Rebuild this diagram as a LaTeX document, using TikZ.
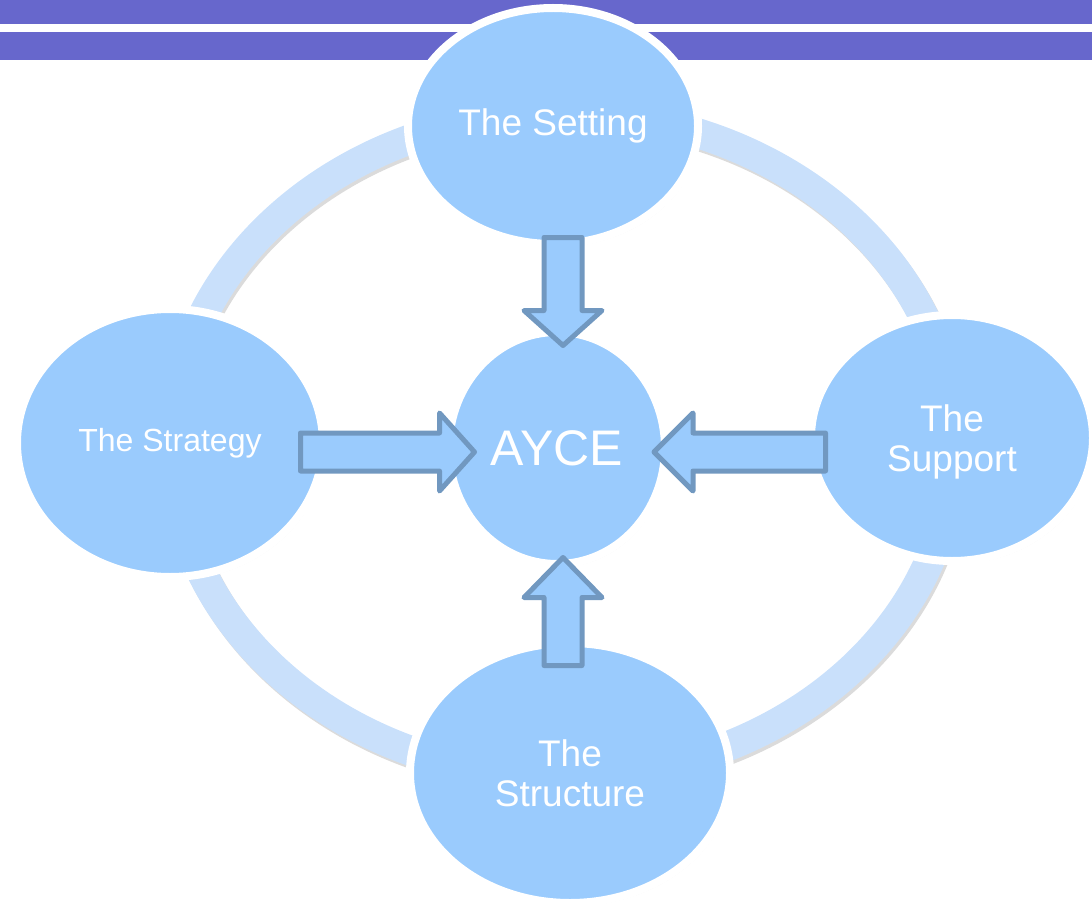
\documentclass[tikz,border=0pt]{standalone}
\usepackage{fontspec}
\setmainfont{Liberation Sans}
\usetikzlibrary{shapes.geometric,shadows}
\definecolor{barc}{HTML}{6767CC}
\definecolor{ringc}{HTML}{C9E0FB}
\definecolor{fillc}{HTML}{9ACBFD}
\definecolor{arrowline}{HTML}{7198C0}
\tikzset{
  bubble/.style={ellipse, fill=fillc, draw=white, line width=8pt, text=white,
    align=center, inner sep=0pt,
    drop shadow={shadow xshift=2pt, shadow yshift=-3pt, opacity=0.22, fill=black!60}},
  txt/.style={font=\fontsize{37}{40}\selectfont},
  blockarrow/.style={fill=fillc, draw=arrowline, line width=5pt, line join=round},
}
\newcommand\myarrow[5]{% x, y, angle, length, headlength
  \draw[blockarrow, shift={(#1,#2)}, rotate=#3]
    (0,-19) -- ({#4-#5},-19) -- ({#4-#5},-39) -- (#4,0) -- ({#4-#5},39) -- ({#4-#5},19) -- (0,19) -- cycle;}
\begin{document}
\begin{tikzpicture}[x=1pt,y=-1pt]
\useasboundingbox (0,0) rectangle (1092,904);
\clip (0,0) rectangle (1092,904);
% top bars
\fill[barc] (0,0) rectangle (1092,24);
\fill[barc] (0,32) rectangle (1092,60);
% ring
\draw[black, opacity=0.14, line width=30pt] (565,448) ellipse [x radius=391, y radius=332];
\draw[ringc, line width=30pt] (563,445) ellipse [x radius=391, y radius=332];
% bubbles
\node[bubble, txt, minimum width=290, minimum height=236] (setting) at (553,126) {The Setting};
\node[bubble, minimum width=306, minimum height=268, font=\fontsize{32}{36}\selectfont] (strategy) at (170,443) {The Strategy};
\node[bubble, txt, minimum width=282, minimum height=246, text depth=0pt] (support) at (952,438) {The\\Support};
\node[bubble, txt, minimum width=320, minimum height=260] (structure) at (570,773) {The\\Structure};
\node[bubble, minimum width=216, minimum height=232, font=\fontsize{50}{54}\selectfont] (ayce) at (557,448) {AYCE};
% block arrows
\myarrow{563}{237.5}{-90}{108}{35}
\myarrow{300.5}{452}{0}{174}{35}
\myarrow{825.5}{452}{180}{171.5}{39}
\myarrow{563}{665.5}{90}{108}{40}
\end{tikzpicture}
\end{document}
